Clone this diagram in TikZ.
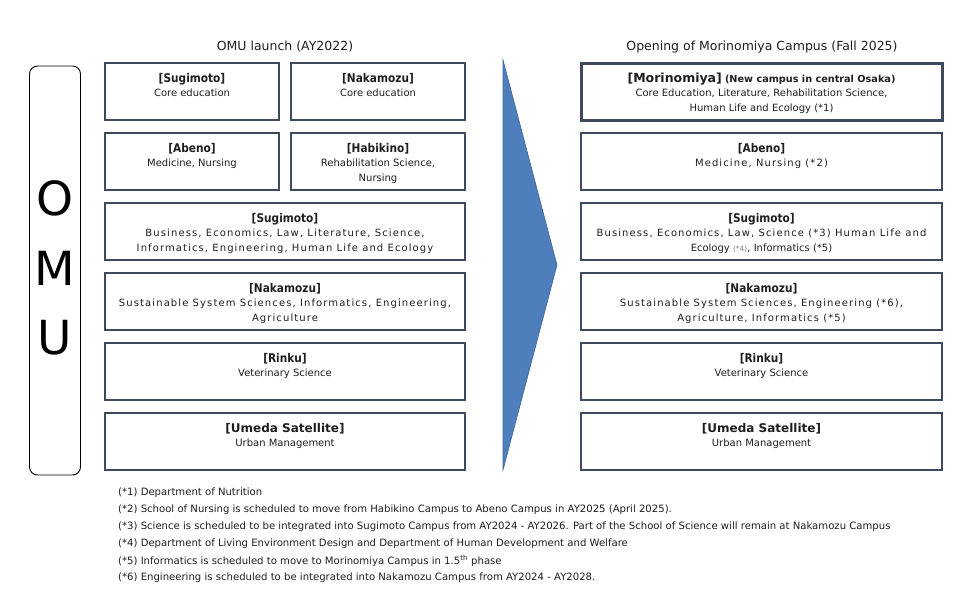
\documentclass[tikz,border=0pt]{standalone}
\usepackage{fontspec}
\setmainfont{DejaVu Sans}
\newfontfamily\narrowfont[FakeStretch=0.88]{DejaVu Sans}
\newfontfamily\trackedfont[LetterSpace=11]{DejaVu Sans}
\usetikzlibrary{positioning}
\definecolor{boxcol}{HTML}{3F4A5C}
\definecolor{arrowcol}{HTML}{4F7EBD}
\definecolor{arrowedge}{HTML}{3D6496}
\definecolor{txtcol}{HTML}{1E1E1E}
\newcommand{\hd}[1]{{\fontsize{12}{14.5}\narrowfont\bfseries #1}}
\newcommand{\hdwide}[1]{{\fontsize{12}{14.5}\bfseries #1}}
\newcommand{\tracked}[1]{{\trackedfont #1}}
\begin{document}
\begin{tikzpicture}[x=1pt, y=-1pt,
  campus/.style={draw=boxcol, line width=1.6pt, inner sep=0pt},
  newcampus/.style={draw=boxcol, line width=3pt, inner sep=0pt},
  info/.style={align=center, inner sep=0pt, text=txtcol, font=\fontsize{10}{14.5}\selectfont},
  title/.style={inner sep=0pt, text=txtcol, font=\fontsize{12.5}{14}\selectfont},
  note/.style={anchor=west, inner sep=0pt, text=txtcol, font=\fontsize{10.1}{12}\selectfont},
  bigletter/.style={inner sep=0pt, font=\fontsize{47}{50}\selectfont}]
\useasboundingbox (0,0) rectangle (960,615);

% OMU bar
\node[draw=black, line width=0.9pt, rounded corners=8pt, minimum width=51pt, minimum height=409pt] (omu) at (55,270.5) {};
\node[bigletter] (omuO) at (55,198) {O};
\node[bigletter] (omuM) at (55,268) {M};
\node[bigletter] (omuU) at (55,338) {U};

% titles
\node[title] (launch) at (285,47) {OMU launch (AY2022)};
\node[title] (opening) at (762,47) {Opening of Morinomiya Campus (Fall 2025)};

% left column, AY2022
\node[campus, minimum width=174pt, minimum height=57pt] (sugiL) at (192,91.5) {};
\node[campus, minimum width=174pt, minimum height=57pt] (nakaL) at (378,91.5) {};
\node[campus, minimum width=174pt, minimum height=57pt] (abenoL) at (192,161.5) {};
\node[campus, minimum width=174pt, minimum height=57pt] (habiL) at (378,161.5) {};
\node[campus, minimum width=360pt, minimum height=57pt] (sugiBL) at (285,231.5) {};
\node[campus, minimum width=360pt, minimum height=57pt] (nakaBL) at (285,301.5) {};
\node[campus, minimum width=360pt, minimum height=57pt] (rinkuL) at (285,371.5) {};
\node[campus, minimum width=360pt, minimum height=57pt] (umedaL) at (285,441.5) {};

\node[info, below=10.5pt of sugiL.north] (sugiLt) {\hd{[Sugimoto]}\\Core education};
\node[info, below=10.5pt of nakaL.north] (nakaLt) {\hd{[Nakamozu]}\\Core education};
\node[info, below=10.5pt of abenoL.north] (abenoLt) {\hd{[Abeno]}\\Medicine, Nursing};
\node[info, below=10.5pt of habiL.north] (habiLt) {\hd{[Habikino]}\\Rehabilitation Science,\\Nursing};
\node[info, below=10.5pt of sugiBL.north] (sugiBLt) {\hd{[Sugimoto]}\\\tracked{Business, Economics, Law, Literature, Science,}\\\tracked{Informatics, Engineering, Human Life and Ecology}};
\node[info, below=10.5pt of nakaBL.north] (nakaBLt) {\hd{[Nakamozu]}\\\tracked{Sustainable System Sciences, Informatics, Engineering,}\\\tracked{Agriculture}};
\node[info, below=10.5pt of rinkuL.north] (rinkuLt) {\hd{[Rinku]}\\Veterinary Science};
\node[info, below=10.5pt of umedaL.north] (umedaLt) {\hdwide{[Umeda Satellite]}\\Urban Management};

% arrow
\coordinate (arrtop) at (503,60);
\coordinate (arrtip) at (557,265);
\coordinate (arrbot) at (503,470);
\draw[fill=arrowcol, draw=arrowedge, line width=0.6pt] (arrtop) -- (arrtip) -- (arrbot) -- cycle;

% right column, Fall 2025
\node[newcampus, minimum width=361pt, minimum height=57pt] (moriR) at (761.5,92) {};
\node[campus, minimum width=361pt, minimum height=57pt] (abenoR) at (761.5,161.5) {};
\node[campus, minimum width=361pt, minimum height=57pt] (sugiR) at (761.5,231.5) {};
\node[campus, minimum width=361pt, minimum height=57pt] (nakaR) at (761.5,301.5) {};
\node[campus, minimum width=361pt, minimum height=57pt] (rinkuR) at (761.5,371.5) {};
\node[campus, minimum width=361pt, minimum height=57pt] (umedaR) at (761.5,441.5) {};

\node[info, below=10.5pt of moriR.north] (moriRt) {{\fontsize{12.5}{14.5}\bfseries [Morinomiya]} {\fontsize{9.7}{14.5}\bfseries (New campus in central Osaka)}\\Core Education, Literature, Rehabilitation Science,\\Human Life and Ecology (*1)};
\node[info, below=10.5pt of abenoR.north] (abenoRt) {\hd{[Abeno]}\\\tracked{Medicine, Nursing (*2)}};
\node[info, below=10.5pt of sugiR.north] (sugiRt) {\hd{[Sugimoto]}\\\tracked{Business, Economics, Law, Science (*3) Human Life and}\\Ecology {\fontsize{7.5}{14.5}\selectfont\color{gray}(*4)}, Informatics (*5)};
\node[info, below=10.5pt of nakaR.north] (nakaRt) {\hd{[Nakamozu]}\\\tracked{Sustainable System Sciences, Engineering (*6),}\\\tracked{Agriculture, Informatics (*5)}};
\node[info, below=10.5pt of rinkuR.north] (rinkuRt) {\hd{[Rinku]}\\Veterinary Science};
\node[info, below=10.5pt of umedaR.north] (umedaRt) {\hdwide{[Umeda Satellite]}\\Urban Management};

% notes
\node[note] (note1) at (118,493) {(*1) Department of Nutrition};
\node[note] (note2) at (118,510) {(*2) School of Nursing is scheduled to move from Habikino Campus to Abeno Campus in AY2025 (April 2025).};
\node[note] (note3) at (118,527) {(*3) Science is scheduled to be integrated into Sugimoto Campus from AY2024 - AY2026. Part of the School of Science will remain at Nakamozu Campus};
\node[note] (note4) at (118,544) {(*4) Department of Living Environment Design and Department of Human Development and Welfare};
\node[note] (note5) at (118,561) {(*5) Informatics is scheduled to move to Morinomiya Campus in 1.5\textsuperscript{th} phase};
\node[note] (note6) at (118,578) {(*6) Engineering is scheduled to be integrated into Nakamozu Campus from AY2024 - AY2028.};
\end{tikzpicture}
\end{document}
